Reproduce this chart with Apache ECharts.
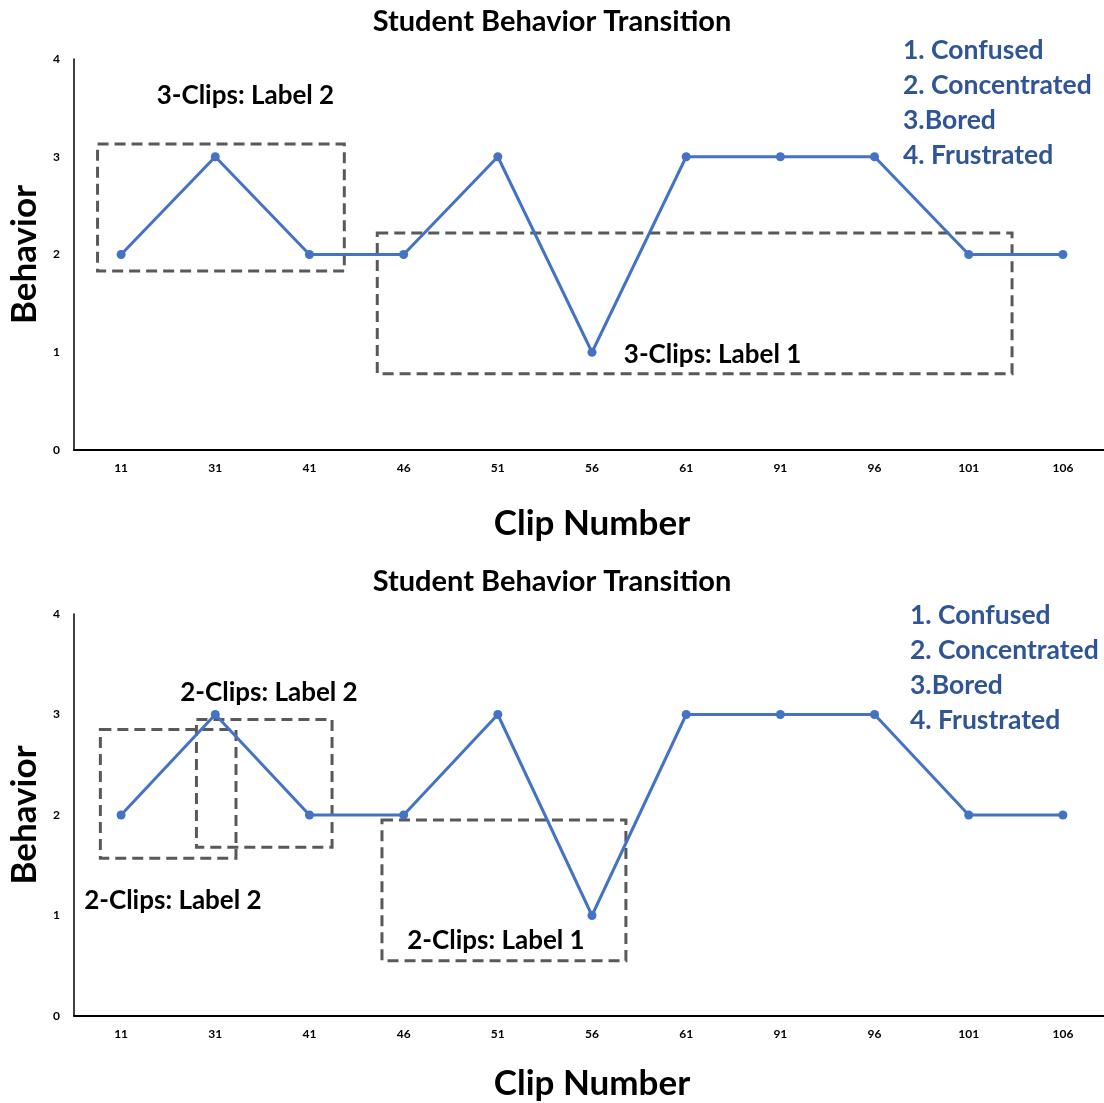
<!DOCTYPE html>
<html>
<head>
<meta charset="utf-8">
<script src="https://cdn.jsdelivr.net/npm/echarts@6/dist/echarts.min.js"></script>
<style>
  html, body { margin: 0; padding: 0; background: #fff; }
  #chart { width: 1104px; height: 1103px; }
</style>
</head>
<body>
<div id="chart"></div>
<script>
// Clip numbers along the x axis
const clips = ['11', '31', '41', '46', '51', '56', '61', '91', '96', '101', '106'];
// Behaviour code for each clip (1 Confused, 2 Concentrated, 3 Bored, 4 Frustrated)
const behavior = [2, 3, 2, 2, 3, 1, 3, 3, 3, 2, 2];
// Behaviour legend lines
const legendLines = ['1. Confused', '2. Concentrated', '3.Bored', '4. Frustrated'];

// Dashed annotation boxes in data units: [xStart, xEnd, yTop, yBottom]
// (x measured in category index positions)
const boxesThree = [
  [-0.25, 2.37, 3.13, 1.83],
  [2.72, 9.46, 2.22, 0.78]
];
const boxesTwo = [
  [-0.22, 1.22, 2.85, 1.57],
  [0.80, 2.24, 2.95, 1.68],
  [2.77, 5.36, 1.95, 0.55]
];
// Annotation captions: [x, y, text]
const notesThree = [
  [1.32, 3.63, '3-Clips: Label 2'],
  [6.28, 0.98, '3-Clips: Label 1']
];
const notesTwo = [
  [1.57, 3.22, '2-Clips: Label 2'],
  [0.55, 1.15, '2-Clips: Label 2'],
  [3.98, 0.75, '2-Clips: Label 1']
];

const FONT = 'Lato';
const LINE_BLUE = '#4472C4';
const TEXT_BLUE = '#2F5597';

const chart = echarts.init(document.getElementById('chart'), null, { renderer: 'canvas' });

const grids = [
  { left: 74, top: 59, width: 1036, height: 391, outerBoundsMode: 'none', containLabel: false },
  { left: 74, top: 614, width: 1036, height: 402, outerBoundsMode: 'none', containLabel: false }
];

function catAxis(gi, gap) {
  return {
    type: 'category', gridIndex: gi, data: clips, boundaryGap: true,
    name: 'Clip Number', nameLocation: 'middle', nameGap: gap,
    nameTextStyle: { fontFamily: FONT, fontWeight: 'bold', fontSize: 35, color: '#000' },
    axisLine: { onZero: false, lineStyle: { color: '#000', width: 2 } },
    axisTick: { show: false },
    axisLabel: { fontFamily: FONT, fontWeight: 'bold', fontSize: 12, color: '#000', margin: 12, interval: 0 }
  };
}
function boxAxis(gi) {
  return { type: 'value', gridIndex: gi, min: -0.5, max: 10.5, show: false };
}
function valAxis(gi) {
  return {
    type: 'value', gridIndex: gi, min: 0, max: 4, interval: 1,
    name: 'Behavior', nameLocation: 'middle', nameGap: 28, nameRotate: 90,
    nameTextStyle: { fontFamily: FONT, fontWeight: 'bold', fontSize: 35, color: '#000' },
    axisLine: { show: true, onZero: false, lineStyle: { color: '#000', width: 1.5 } },
    axisTick: { show: false },
    splitLine: { show: false },
    axisLabel: { fontFamily: FONT, fontWeight: 'bold', fontSize: 12, color: '#000', margin: 14 }
  };
}

function boxSeries(data, xi, yi) {
  return {
    type: 'custom', xAxisIndex: xi, yAxisIndex: yi, z: 2,
    data: data, encode: { x: [0, 1], y: [2, 3] },
    renderItem: function (params, api) {
      const p0 = api.coord([api.value(0), api.value(2)]);
      const p1 = api.coord([api.value(1), api.value(3)]);
      return {
        type: 'rect',
        shape: { x: p0[0], y: p0[1], width: p1[0] - p0[0], height: p1[1] - p0[1] },
        style: { fill: 'none', stroke: '#595959', lineWidth: 3, lineDash: [11, 6] }
      };
    }
  };
}
function noteSeries(data, xi, yi) {
  return {
    type: 'custom', xAxisIndex: xi, yAxisIndex: yi, z: 4,
    data: data, encode: { x: 0, y: 1 },
    renderItem: function (params, api) {
      const p = api.coord([api.value(0), api.value(1)]);
      return {
        type: 'text', x: p[0], y: p[1],
        style: {
          text: data[params.dataIndex][2], fill: '#000',
          font: 'bold 26px ' + FONT, align: 'center', verticalAlign: 'middle'
        }
      };
    }
  };
}
function lineSeries(xi, yi) {
  return {
    type: 'line', xAxisIndex: xi, yAxisIndex: yi, z: 3, data: behavior,
    symbol: 'circle', symbolSize: 9,
    lineStyle: { color: LINE_BLUE, width: 3 },
    itemStyle: { color: LINE_BLUE }
  };
}

function legendText(left, top) {
  return {
    type: 'text', left: left, top: top,
    style: {
      text: legendLines.join('\n'), fill: TEXT_BLUE,
      font: 'bold 26.5px ' + FONT, lineHeight: 35
    }
  };
}

chart.setOption({
  animation: false,
  title: [
    { text: 'Student Behavior Transition', left: 'center', top: 2,
      textStyle: { fontFamily: FONT, fontWeight: 'bold', fontSize: 29, color: '#000' } },
    { text: 'Student Behavior Transition', left: 'center', top: 562,
      textStyle: { fontFamily: FONT, fontWeight: 'bold', fontSize: 29, color: '#000' } }
  ],
  grid: grids,
  xAxis: [catAxis(0, 56), catAxis(1, 50), boxAxis(0), boxAxis(1)],
  yAxis: [valAxis(0), valAxis(1)],
  series: [
    boxSeries(boxesThree, 2, 0),
    noteSeries(notesThree, 2, 0),
    lineSeries(0, 0),
    boxSeries(boxesTwo, 3, 1),
    noteSeries(notesTwo, 3, 1),
    lineSeries(1, 1)
  ],
  graphic: [legendText(903, 33), legendText(910, 598)]
});
</script>
</body>
</html>
